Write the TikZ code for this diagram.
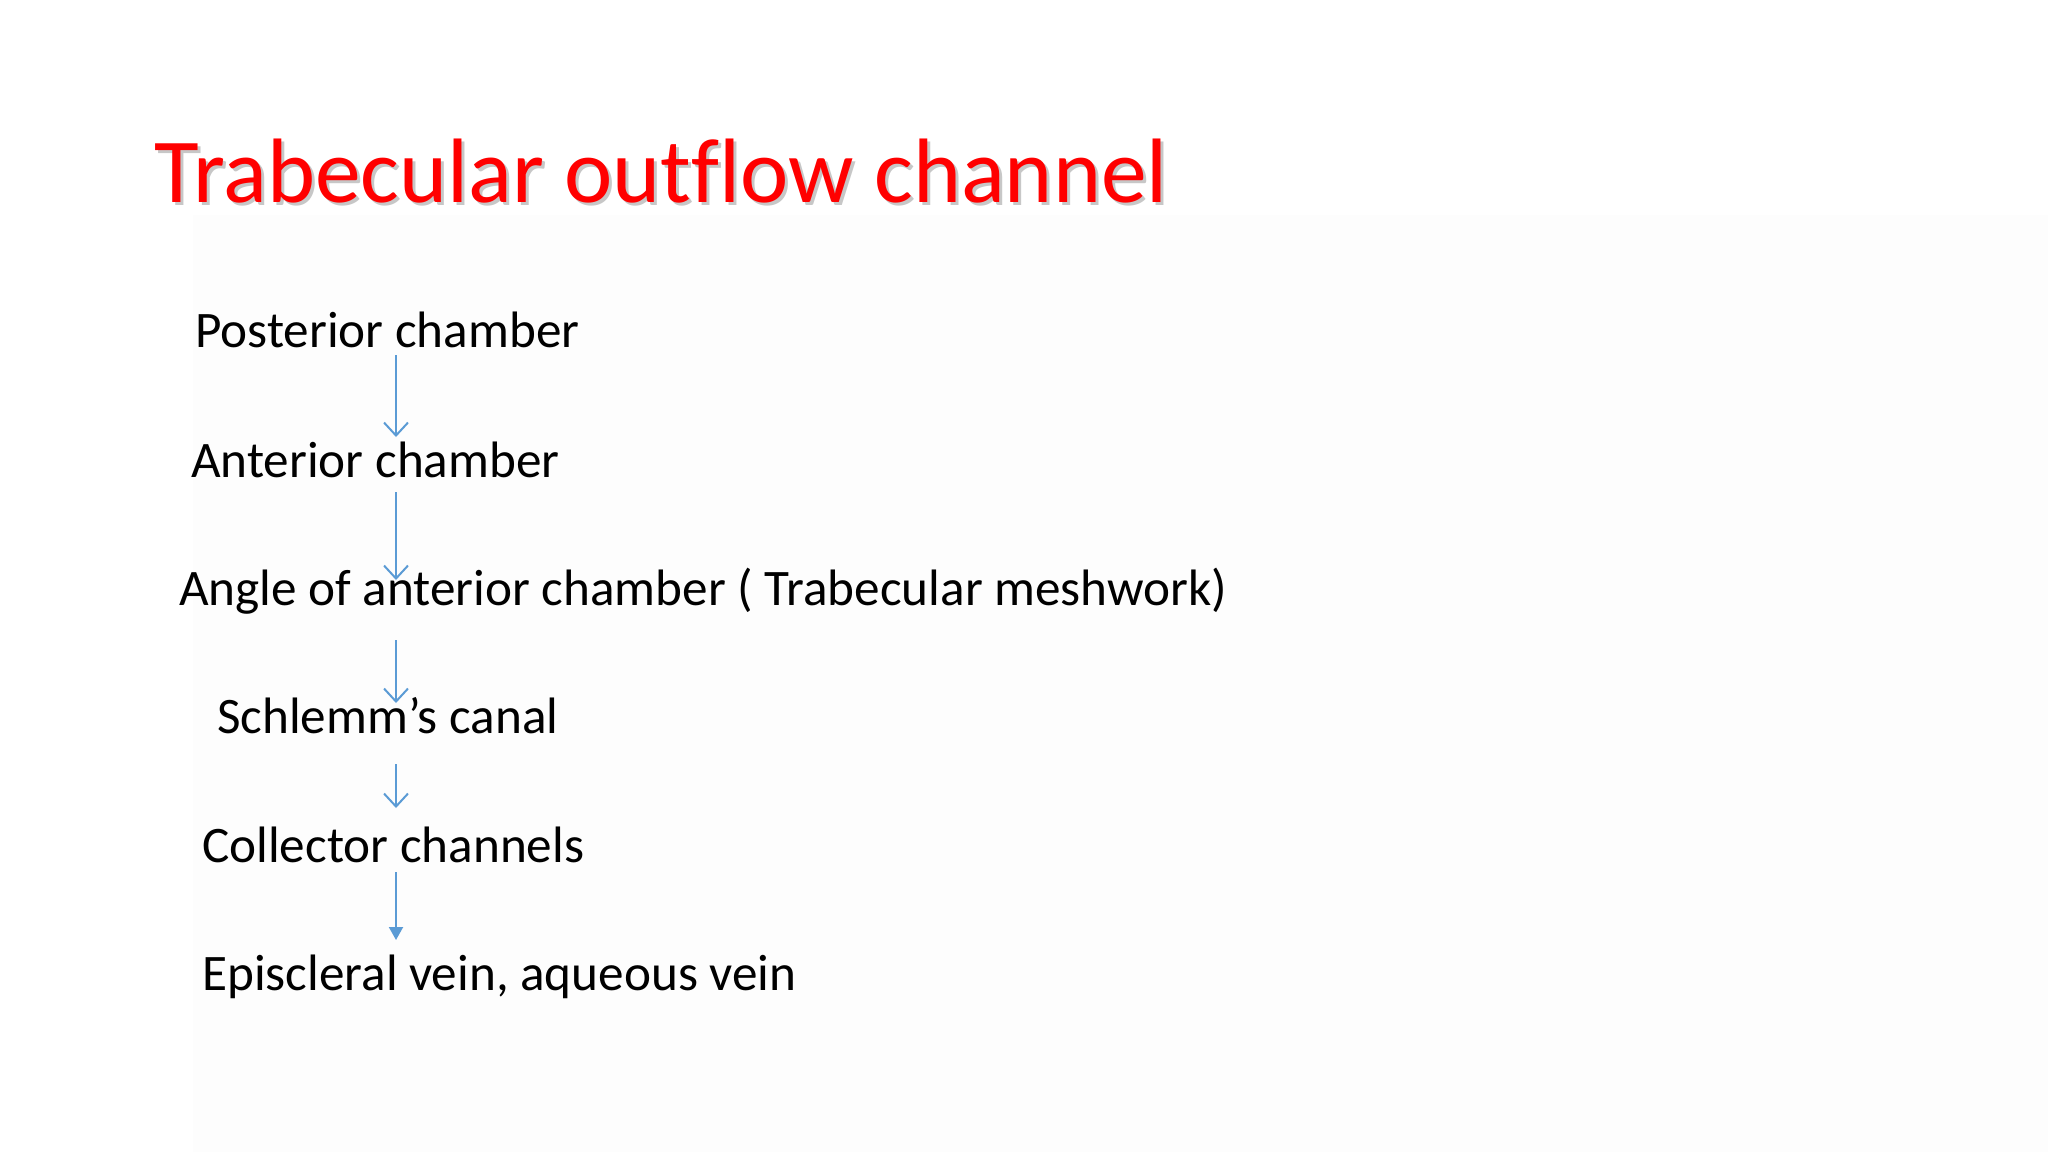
\documentclass[tikz,border=0pt]{standalone}
\usepackage{fontspec}
\setmainfont{Carlito}[Ligatures=NoCommon]
\usetikzlibrary{arrows.meta}
\definecolor{arrblue}{RGB}{91,155,213}
\definecolor{titlered}{RGB}{255,0,0}
\definecolor{bggrey}{RGB}{253,253,253}
\tikzset{
  item/.style={anchor=base west, inner sep=0pt, font=\fontsize{51.2}{61}\selectfont, text=black},
  ttl/.style={anchor=base west, inner sep=0pt, font=\fontsize{91.5}{110}\selectfont},
  arr/.style={draw=arrblue, line width=2pt, -{Straight Barb[length=13pt,width=24pt,line width=2pt]}},
  arrf/.style={draw=arrblue, line width=2pt, -{Triangle[length=13pt,width=14pt]}},
}
\begin{document}
\begin{tikzpicture}[x=1pt,y=1pt]
\useasboundingbox (0,0) rectangle (2048,-1152);
\fill[white] (0,0) rectangle (2048,-1152);
\fill[bggrey] (193,-215) rectangle (2048,-1152);
% title with shadow
\node[ttl, text=black!40, opacity=0.55] (tshadow) at (157,-205) {Trabecular outflow channel};
\node[ttl, text=titlered] (title) at (154,-202) {Trabecular outflow channel};
% items
\node[item] (p) at (195,-347) {Posterior chamber};
\node[item] (a) at (191,-477) {Anterior chamber};
\node[item] (g) at (179,-605) {Angle of anterior chamber ( Trabecular meshwork)};
\node[item] (s) at (217,-733) {Schlemm’s canal};
\node[item] (c) at (202,-862) {Collector channels};
\node[item] (e) at (202,-990) {Episcleral vein, aqueous vein};
\coordinate (ax) at (396,0);
\draw[arr] ([yshift=-8pt]p.base -| ax) -- ([yshift=40pt]a.base -| ax);
\draw[arr] ([yshift=-15pt]a.base -| ax) -- ([yshift=25pt]g.base -| ax);
\draw[arr] ([yshift=-35pt]g.base -| ax) -- ([yshift=30pt]s.base -| ax);
\draw[arr] ([yshift=-31pt]s.base -| ax) -- ([yshift=54pt]c.base -| ax);
\draw[arrf] ([yshift=-10pt]c.base -| ax) -- ([yshift=50pt]e.base -| ax);
\end{tikzpicture}
\end{document}
